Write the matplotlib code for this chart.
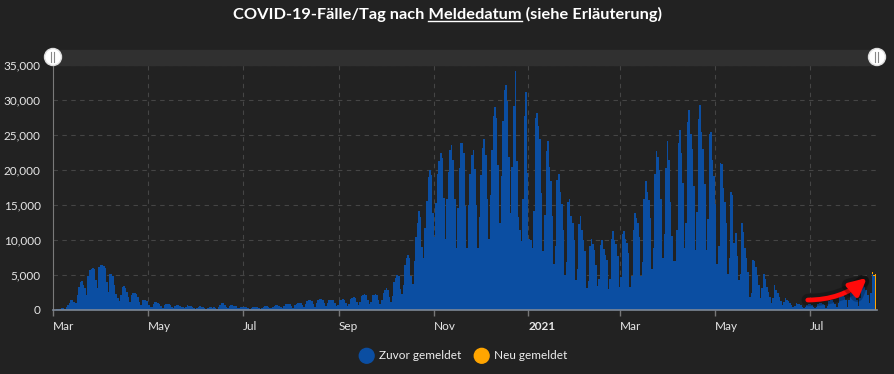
import numpy as np
import pandas as pd
import matplotlib
matplotlib.use("Agg")
import matplotlib.pyplot as plt
import matplotlib.dates as mdates
from matplotlib.patches import FancyArrowPatch, Circle, Rectangle
from matplotlib.lines import Line2D
import matplotlib.patheffects as pe

plt.rcParams['font.family'] = ['Lato', 'DejaVu Sans']

# daily cases by reporting date, starting Sun 2020-03-01 (rows are Mon..Sun weeks)
start = '2020-03-01'
zuvor = [
    20,
    50, 80, 120, 180, 250, 240, 160,                    # 2020-03-02
    500, 700, 1000, 1450, 1500, 1100, 1000,
    2200, 3300, 4000, 4100, 3600, 3100, 2100,
    4800, 5700, 5900, 6000, 5900, 4300, 3100,
    6100, 6400, 6500, 6300, 6000, 4000, 2600,
    5200, 5100, 4800, 3600, 2300, 1700, 1300,           # 04-06
    2100, 3300, 3400, 3100, 2600, 1800, 1200,
    2100, 2400, 2500, 2300, 1900, 1200, 700,
    1400, 1450, 1400, 1300, 700, 500, 400,
    800, 1100, 1100, 1000, 900, 600, 300,               # 05-04
    700, 900, 900, 800, 700, 450, 250,
    600, 750, 700, 550, 500, 400, 250,
    500, 650, 600, 550, 500, 350, 200,
    250, 450, 550, 500, 450, 300, 200,                  # 06-01
    350, 450, 500, 350, 400, 300, 200,
    450, 700, 1000, 1050, 750, 500, 350,
    600, 650, 650, 550, 550, 350, 250,
    400, 500, 500, 450, 450, 300, 200,
    350, 450, 500, 450, 450, 300, 200,                  # 07-06
    350, 500, 550, 550, 500, 350, 250,
    450, 600, 650, 650, 600, 400, 300,
    550, 800, 850, 850, 800, 550, 350,
    650, 900, 1000, 1000, 950, 650, 400,                # 08-03
    800, 1300, 1400, 1400, 1350, 900, 500,
    1000, 1500, 1600, 1600, 1500, 1000, 600,
    1000, 1500, 1500, 1500, 1400, 950, 550,
    750, 1400, 1400, 1550, 1400, 950, 550,
    900, 1600, 1700, 1800, 1700, 1100, 650,             # 09-07
    1100, 2000, 2200, 2300, 2100, 1400, 800,
    1200, 2100, 2200, 2300, 2100, 1400, 800,
    1400, 2500, 2800, 3100, 2900, 1800, 1100,
    2000, 4000, 4600, 5000, 4800, 3000, 2300,           # 10-05
    3600, 6500, 7400, 7900, 7500, 4800, 3700,
    7000, 10500, 12500, 14100, 13300, 9000, 7400,
    11700, 15600, 19000, 20000, 19300, 13800, 10500,
    15300, 19400, 21300, 22400, 21700, 16000, 10100,    # 11-02
    15900, 19700, 22800, 23600, 21400, 15900, 8800,
    14600, 20300, 23800, 23800, 22400, 14900, 8800,
    15000, 19400, 22100, 22800, 20200, 15000, 8800,
    13300, 19300, 23200, 24500, 22200, 15800, 10200,
    16500, 22800, 27700, 29000, 27400, 20700, 12500,    # 12-07
    19100, 27000, 31400, 32100, 29800, 21900, 13900,
    20400, 29100, 34100, 21300, 13300, 11500, 9800,
    15800, 27700, 31100, 19600, 10200, 10000, 8800,
    14200, 27500, 28200, 26300, 24500, 16700, 8500,     # 2021-01-04
    13600, 22700, 24100, 20400, 18400, 13400, 6600,
    9100, 18600, 19500, 16800, 15100, 11500, 5000,
    6800, 15500, 15800, 13400, 12500, 10000, 4300,
    5900, 12300, 13400, 11500, 10000, 8400, 3100,       # 02-01
    4200, 9100, 10200, 9400, 8600, 6500, 3400,
    4400, 9300, 10000, 8700, 7900, 7100, 3000,
    4400, 10200, 11300, 10000, 9400, 7700, 3300,
    4700, 10900, 11300, 10100, 9600, 8200, 3300,        # 03-01
    4800, 11500, 13900, 13100, 12500, 10500, 4800,
    6800, 15800, 18400, 16800, 15700, 13200, 5900,
    8800, 19500, 22700, 21900, 20000, 15800, 7500,
    10900, 20300, 24100, 21500, 15500, 10600, 7000,
    7000, 11500, 23800, 25700, 22500, 18100, 8800,      # 04-05
    12500, 26800, 28600, 25200, 23000, 17700, 8600,
    14000, 27300, 29300, 25400, 23000, 18000, 8600,
    13000, 25200, 25400, 21500, 19200, 15100, 6600,
    9100, 21000, 20800, 17500, 15500, 12500, 5200,      # 05-03
    7500, 16800, 16500, 9600, 11000, 7700, 4300,
    5200, 12400, 11200, 8800, 7500, 5500, 1900,
    2500, 7100, 7000, 6200, 5000, 3600, 1700,
    3200, 5100, 4500, 3300, 2600, 1900, 1000,
    1700, 3600, 2900, 2400, 1900, 1300, 700,            # 06-07
    1100, 1700, 1400, 1300, 1000, 700, 400,
    600, 1000, 900, 800, 700, 500, 250,
    400, 700, 900, 900, 700, 500, 300,
    450, 900, 1000, 1000, 900, 700, 300,                # 07-05
    600, 1300, 1400, 1400, 1200, 900, 400,
    950, 1900, 2200, 2100, 1900, 1400, 500,
    1400, 2400, 2600, 2400, 2100, 1500, 600,
    1700, 3100, 3600, 3300, 2900, 2100, 950,            # 08-02
    2400, 5150, 4800, 0,
]
# newly reported cases, stacked on the last days
neu = [0, 250, 200, 5100]

yticks = [0, 5000, 10000, 15000, 20000, 25000, 30000, 35000]
title_parts = ["COVID-19-Fälle/Tag nach ", "Meldedatum", " (siehe Erläuterung)"]
legend_labels = ["Zuvor gemeldet", "Neu gemeldet"]

bg = '#222222'
blue = '#0b4ea2'
orange = '#ffa500'
W, H = 895, 374

dates = pd.date_range(start, periods=len(zuvor), freq='D')
neu_full = np.zeros(len(zuvor))
neu_full[-len(neu):] = neu

fig = plt.figure(figsize=(W / 100, H / 100), dpi=100, facecolor=bg)
ax = fig.add_axes([53.3 / W, 64 / H, (877 - 53.3) / W, 245 / H])
ax.set_facecolor(bg)

ax.bar(dates, zuvor, width=1.0, align='edge', color=blue, linewidth=0)
ax.bar(dates, neu_full, bottom=zuvor, width=1.0, align='edge', color=orange, linewidth=0)

ax.set_xlim(pd.Timestamp('2020-03-01'), pd.Timestamp('2021-08-13') + pd.Timedelta(hours=10))
ax.set_ylim(0, 35000)
ax.set_yticks(yticks)
ax.set_yticklabels([f'{v:,}' for v in yticks])

ax.xaxis.set_major_locator(mdates.MonthLocator(bymonth=(1, 3, 5, 7, 9, 11)))
fig.canvas.draw()
labels = []
for t in ax.get_xticks():
    d = mdates.num2date(t)
    labels.append(str(d.year) if d.month == 1 else d.strftime('%b'))
ax.set_xticks(ax.get_xticks())
ax.set_xticklabels(labels)
for lab in ax.get_xticklabels():
    lab.set_horizontalalignment('left')
    if lab.get_text().isdigit():
        lab.set_fontweight('bold')

ax.tick_params(axis='y', length=0, pad=9, labelsize=8.5, labelcolor='#e6e6e6')
ax.tick_params(axis='x', length=4, width=1, color='#777777', pad=4,
               labelsize=8.5, labelcolor='#e6e6e6')

ax.grid(True, color='#454545', linestyle=(0, (4, 4)), linewidth=0.8)
ax.set_axisbelow(True)
for s in ['top', 'right']:
    ax.spines[s].set_visible(False)
ax.spines['left'].set_color('#7a7a7a')
ax.spines['bottom'].set_color('#7d8796')
ax.spines['bottom'].set_linewidth(1.2)

# red arrow
arr = FancyArrowPatch((805, H - 300), (869, H - 276), transform=None,
                      connectionstyle='arc3,rad=0.2', arrowstyle='-|>',
                      mutation_scale=25, color='#ff0a0a', linewidth=3.4,
                      path_effects=[pe.withStroke(linewidth=9, foreground=(0, 0, 0, 0.25))])
fig.patches.append(arr)

# slider band on top
fig.patches.append(Rectangle((53 / W, (H - 65) / H), (877 - 53) / W, 15 / H,
                             transform=fig.transFigure, color='#303030', zorder=1))
for hx in (53, 877):
    fig.patches.append(Circle((hx, H - 57), 8.5, transform=None, facecolor='white',
                              edgecolor='#dddddd', zorder=3))
    for dx in (-1.5, 1.5):
        fig.lines.append(Line2D([(hx + dx) / W] * 2, [(H - 62) / H, (H - 52) / H],
                                transform=fig.transFigure, color='#888888', lw=0.8, zorder=4))

# title with underlined word
r = fig.canvas.get_renderer()
tfont = dict(fontsize=11.8, fontweight='bold', color='white')

def text_width(s):
    t = fig.text(0, 0, s, **tfont)
    w = t.get_window_extent(r).width
    t.remove()
    return w

full = ''.join(title_parts)
tw = text_width(full)
x0 = W / 2 - tw / 2
fig.text(x0 / W, (H - 14) / H, full, va='center', ha='left', **tfont)
u0 = x0 + text_width(title_parts[0] + 'M') - text_width('M')
u1 = x0 + text_width(title_parts[0] + title_parts[1])
fig.lines.append(Line2D([u0 / W, u1 / W], [(H - 21) / H] * 2, transform=fig.transFigure,
                        color='white', lw=1))

# legend
for cx, tx, col, lab in [(366.7, 379, blue, legend_labels[0]), (481.7, 494.5, orange, legend_labels[1])]:
    fig.patches.append(Circle((cx, H - 355.8), 7.4, transform=None, color=col))
    fig.text(tx / W, (H - 355.8) / H, lab, color='#eeeeee', fontsize=8.5, va='center', ha='left')

fig.savefig('out.png', dpi=100, facecolor=bg)
